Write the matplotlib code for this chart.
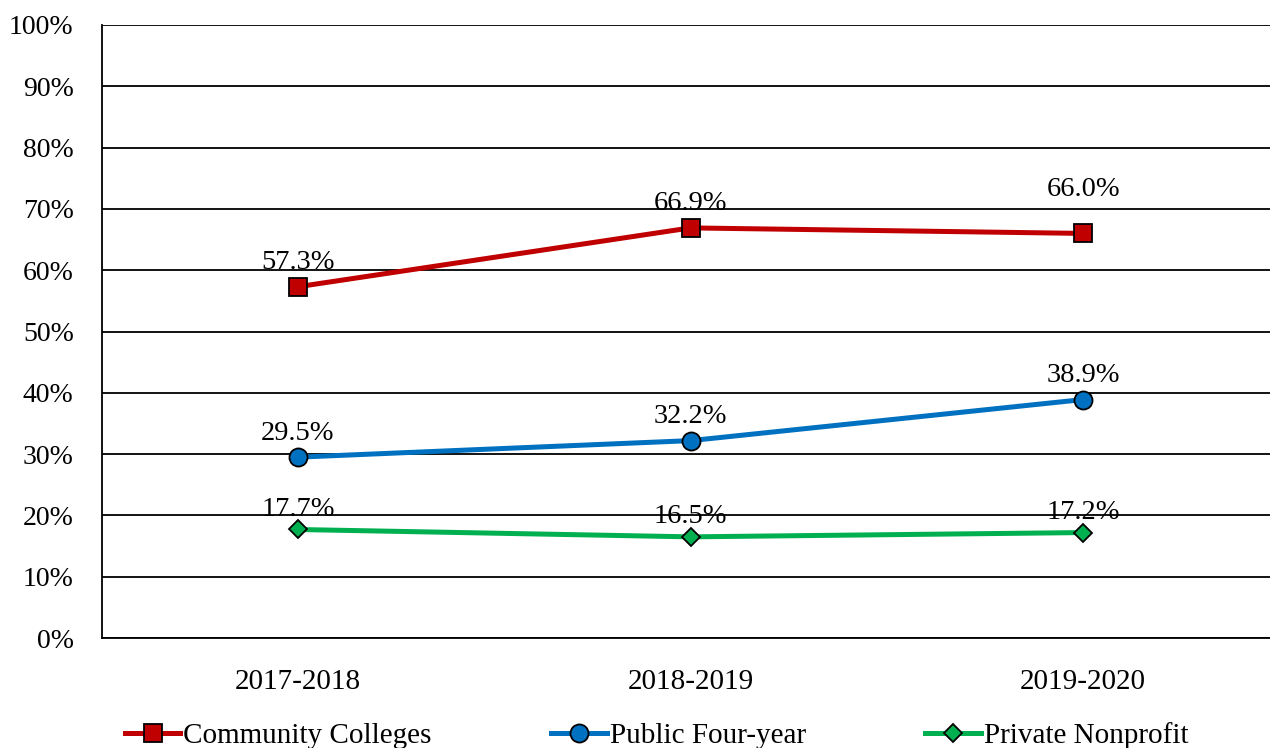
import matplotlib
matplotlib.use("Agg")
import matplotlib.pyplot as plt

plt.rcParams['font.family'] = ['Liberation Serif', 'DejaVu Serif']

# Datos
years = ["2017-2018", "2018-2019", "2019-2020"]
community = [57.3, 66.9, 66.0]
public4 = [29.5, 32.2, 38.9]
private_np = [17.7, 16.5, 17.2]

series = [
    ("Community Colleges", community, "#C00000", "s", 13),
    ("Public Four-year", public4, "#0070C0", "o", 13),
    ("Private Nonprofit", private_np, "#00B050", "D", 9.5),
]

fig = plt.figure(figsize=(12.7, 7.48), dpi=100)
ax = fig.add_axes([101.5 / 1270, 110 / 748, 1178 / 1270, 613 / 748])

x = list(range(len(years)))
for name, vals, color, mk, ms in series:
    ax.plot(x, vals, color=color, lw=3.6, marker=mk, markersize=ms,
            markerfacecolor=color, markeredgecolor="black", markeredgewidth=1.3,
            label=name, zorder=3)
    for i, v in enumerate(vals):
        off = 24
        if name == "Community Colleges" and i == 2:
            off = 44
        elif name == "Private Nonprofit":
            off = 20
        ax.annotate(f"{v:.1f}%", (i, v), xytext=(0, off), textcoords="offset pixels",
                    ha="center", va="center", fontsize=20.5, zorder=4)

ax.set_xlim(-0.5, 2.5)
ax.set_ylim(0, 100)
ax.set_yticks(range(0, 101, 10))
ax.set_yticklabels([f"{t}%" for t in range(0, 101, 10)])
ax.set_xticks(x)
ax.set_xticklabels(years)
ax.tick_params(axis="y", length=0, labelsize=20, pad=20)
ax.tick_params(axis="x", length=0, labelsize=21, pad=22)
ax.grid(axis="y", color="black", lw=1.3)
ax.set_axisbelow(True)
for s in ["top", "right"]:
    ax.spines[s].set_visible(False)
for s in ["left", "bottom"]:
    ax.spines[s].set_linewidth(1.3)

fig.legend(loc="center left", bbox_to_anchor=(125 / 1270, 12 / 748), ncol=3,
           frameon=False, fontsize=21, handlelength=1.9, handletextpad=0.1,
           columnspacing=4.1, borderpad=0, borderaxespad=0)

fig.savefig("out.png", dpi=100)
